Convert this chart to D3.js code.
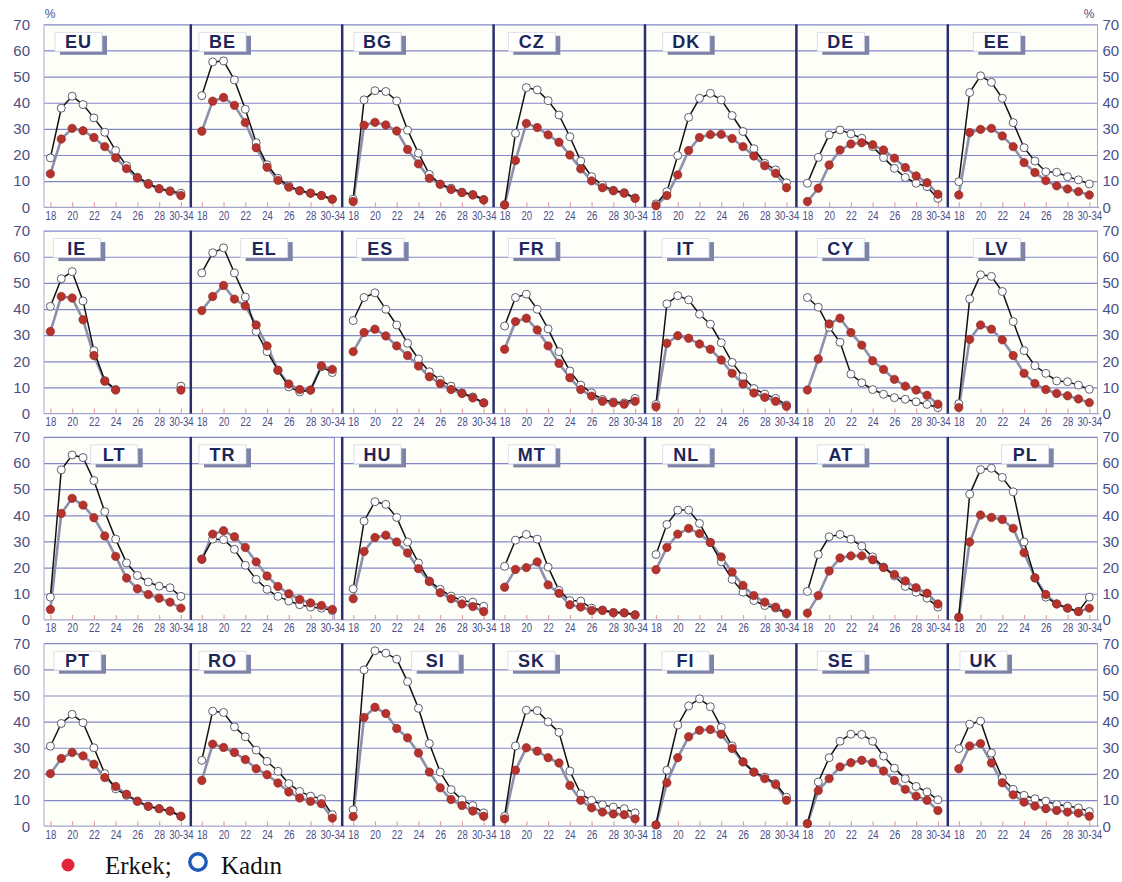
<!DOCTYPE html>
<html>
<head>
<meta charset="utf-8">
<script src="https://cdn.jsdelivr.net/npm/d3@7"></script>
<style>
  body { margin: 0; background: #fff; }
  svg { display: block; }
  .num { font-family: "Liberation Sans", Arial, sans-serif; fill: #4b4f86; }
</style>
</head>
<body>
<svg id="chart" width="1122" height="882"></svg>
<script>
// ages on the x axis, and the ones that get a label
const ages = ["18", "19", "20", "21", "22", "23", "24", "25", "26", "27", "28", "29", "30-34"];
const tickAges = ["18", "20", "22", "24", "26", "28", "30-34"];
const yTicks = [0, 10, 20, 30, 40, 50, 60, 70];

// panel order, row by row
const row1 = ["EU", "BE", "BG", "CZ", "DK", "DE", "EE"];
const row2 = ["IE", "EL", "ES", "FR", "IT", "CY", "LV"];
const row3 = ["LT", "TR", "HU", "MT", "NL", "AT", "PL"];
const row4 = ["PT", "RO", "SI", "SK", "FI", "SE", "UK"];

// % per age, _E = Erkek (men), _K = Kadın (women)
const EU_E = [12.8, 26.1, 30.2, 29.3, 26.7, 23.2, 18.9, 14.8, 11.2, 8.8, 7.1, 6.1, 4.5];
const EU_K = [18.9, 37.9, 42.5, 39.3, 34.2, 28.7, 21.7, 15.9, 11.5, 9.2, 7.1, 6.3, 5.4];
const BE_E = [29.1, 40.6, 42.0, 39.0, 32.4, 22.8, 15.3, 10.3, 7.7, 6.3, 5.4, 4.5, 3.1];
const BE_K = [42.7, 55.6, 56.0, 48.7, 37.5, 24.7, 16.3, 11.1, 8.2, 6.4, 5.4, 4.5, 3.1];
const BG_E = [2.2, 31.4, 32.5, 31.5, 29.2, 22.1, 16.6, 11.1, 8.8, 6.8, 5.6, 4.7, 2.8];
const BG_K = [3.1, 41.1, 44.6, 44.3, 40.7, 29.5, 20.7, 12.6, 8.8, 7.3, 5.8, 4.9, 3.0];
const CZ_E = [0.9, 17.9, 32.1, 30.5, 27.7, 24.9, 20.0, 14.7, 10.1, 7.5, 6.3, 5.4, 3.4];
const CZ_K = [1.0, 28.3, 45.8, 44.9, 40.8, 35.3, 27.0, 17.7, 11.7, 8.5, 6.5, 5.6, 3.6];
const DK_E = [0.6, 4.5, 12.4, 21.7, 26.7, 27.8, 27.9, 26.3, 23.2, 19.6, 15.9, 13.0, 7.5];
const DK_K = [1.3, 6.0, 19.8, 34.4, 41.7, 43.6, 41.1, 35.1, 29.0, 22.4, 16.8, 14.3, 9.4];
const DE_E = [2.2, 7.3, 16.2, 21.9, 24.2, 24.7, 23.9, 21.9, 18.8, 15.2, 12.0, 9.4, 5.0];
const DE_K = [9.2, 19.1, 27.7, 29.6, 28.1, 26.4, 23.2, 19.0, 14.9, 11.4, 9.2, 7.9, 3.4];
const EE_E = [4.7, 28.6, 29.8, 30.2, 27.3, 23.2, 17.1, 13.3, 10.2, 8.2, 7.0, 6.0, 4.7];
const EE_K = [9.8, 43.9, 50.3, 47.8, 41.7, 32.4, 22.8, 17.7, 13.6, 13.4, 11.7, 10.5, 8.9];

const IE_E = [31.4, 44.8, 44.2, 35.9, 22.2, 12.4, 9.0, null, null, null, null, null, 9.0];
const IE_K = [41.0, 51.6, 54.3, 43.1, 24.1, 12.6, 9.2, null, null, null, null, null, 10.5];
const EL_E = [39.4, 44.8, 49.0, 43.8, 41.2, 33.9, 25.9, 16.6, 11.3, 9.2, 9.0, 18.3, 16.9];
const EL_K = [53.8, 61.5, 63.4, 53.8, 44.6, 31.4, 23.7, 16.6, 10.2, 8.3, 9.0, 17.9, 15.7];
const ES_E = [23.7, 31.0, 32.3, 29.7, 25.9, 22.2, 18.2, 14.1, 11.5, 9.2, 7.7, 6.0, 4.1];
const ES_K = [35.6, 44.4, 46.2, 39.9, 33.9, 26.9, 20.9, 16.0, 12.8, 10.5, 7.9, 6.4, 4.1];
const FR_E = [24.6, 35.2, 36.5, 32.0, 25.9, 19.2, 13.7, 9.2, 6.7, 4.7, 4.1, 3.6, 4.7];
const FR_K = [33.5, 44.4, 45.7, 39.9, 32.4, 23.7, 16.3, 10.9, 7.9, 5.4, 4.5, 4.1, 5.8];
const IT_E = [2.6, 26.9, 29.8, 28.8, 26.6, 24.6, 20.5, 15.4, 11.3, 7.9, 6.2, 4.7, 2.8];
const IT_K = [3.5, 42.0, 45.1, 43.5, 38.0, 34.2, 27.1, 19.6, 14.1, 9.6, 7.5, 5.8, 3.3];
const CY_E = [9.0, 20.9, 34.3, 36.5, 31.0, 26.2, 20.2, 16.9, 13.1, 10.5, 9.0, 7.0, 3.6];
const CY_K = [44.4, 40.7, 33.0, 27.3, 15.1, 11.8, 9.2, 7.4, 6.1, 5.5, 4.5, 3.5, 2.3];
const LV_E = [2.3, 28.4, 33.9, 32.3, 28.2, 22.2, 15.4, 11.5, 9.2, 7.7, 6.8, 5.6, 4.2];
const LV_K = [3.8, 43.9, 53.1, 52.5, 46.7, 35.2, 24.1, 18.3, 15.4, 12.5, 12.2, 10.9, 9.3];

const LT_E = [4.0, 40.7, 46.5, 43.9, 39.1, 32.1, 24.3, 16.0, 11.9, 9.7, 8.3, 6.8, 4.5];
const LT_K = [8.7, 57.4, 63.1, 62.1, 53.3, 41.4, 30.9, 21.8, 17.0, 14.5, 12.9, 12.3, 9.0];
const TR_E = [23.2, 32.8, 34.1, 31.8, 27.7, 22.2, 16.8, 12.8, 10.0, 7.8, 6.5, 5.5, 4.0];
const TR_K = [23.2, 30.9, 30.7, 27.0, 20.9, 15.5, 11.7, 9.0, 7.2, 5.8, 4.9, 4.5, 3.6];
const HU_E = [8.1, 26.2, 31.5, 32.4, 29.8, 25.6, 19.6, 14.7, 10.4, 8.1, 6.1, 5.1, 3.2];
const HU_K = [11.9, 37.8, 45.2, 44.2, 39.2, 29.8, 21.8, 14.9, 11.7, 9.1, 7.4, 6.8, 5.2];
const MT_E = [12.5, 19.3, 20.0, 22.2, 13.4, 10.2, 5.8, 4.9, 3.6, 3.6, 2.7, 2.7, 1.9];
const MT_K = [20.5, 30.5, 32.7, 30.9, 20.2, 11.3, 7.4, 7.2, 4.5, 3.8, 2.9, 2.7, 2.0];
const NL_E = [19.2, 27.7, 32.8, 35.0, 33.0, 29.6, 24.1, 18.3, 13.2, 9.3, 6.8, 4.9, 2.6];
const NL_K = [25.0, 36.5, 42.0, 42.0, 36.9, 29.6, 22.2, 15.5, 10.6, 7.4, 5.5, 4.5, 2.3];
const AT_E = [2.6, 9.3, 18.7, 23.7, 24.5, 24.5, 23.0, 20.0, 17.4, 14.9, 12.3, 10.2, 6.1];
const AT_K = [10.9, 25.0, 31.8, 32.7, 30.9, 28.2, 24.1, 20.2, 16.8, 12.8, 10.6, 8.3, 4.9];
const PL_E = [1.0, 29.8, 40.1, 39.2, 38.4, 35.0, 25.7, 16.1, 9.7, 6.1, 4.5, 3.2, 4.5];
const PL_K = [1.0, 48.1, 57.5, 58.0, 54.5, 49.0, 29.8, 16.0, 8.7, 6.1, 4.5, 3.2, 8.7];

const PT_E = [20.1, 25.9, 28.2, 26.9, 23.7, 18.6, 15.2, 12.2, 9.5, 7.6, 6.7, 5.8, 3.8];
const PT_K = [30.6, 39.3, 42.8, 39.6, 30.0, 20.1, 14.3, 11.8, 9.6, 7.6, 6.7, 5.8, 3.8];
const RO_E = [17.5, 31.4, 30.1, 28.2, 25.5, 22.0, 19.7, 16.5, 13.1, 10.8, 9.5, 8.6, 3.1];
const RO_K = [25.2, 44.0, 43.5, 38.0, 34.2, 29.1, 24.8, 21.0, 16.3, 13.3, 11.5, 10.5, 4.4];
const SI_E = [3.7, 41.6, 45.5, 43.1, 37.4, 33.8, 28.0, 20.7, 14.7, 10.2, 7.9, 5.8, 3.8];
const SI_K = [6.3, 59.8, 67.1, 66.2, 63.9, 55.3, 45.1, 31.6, 20.7, 14.0, 10.1, 7.9, 5.1];
const SK_E = [2.8, 21.4, 30.0, 28.7, 26.2, 24.2, 15.6, 9.9, 7.0, 5.4, 4.7, 4.4, 2.8];
const SK_K = [3.8, 30.7, 44.4, 44.2, 39.9, 35.9, 21.1, 12.4, 9.9, 8.2, 7.3, 6.7, 5.1];
const FI_E = [0.5, 16.6, 26.2, 34.2, 36.7, 37.0, 35.2, 29.7, 24.6, 20.7, 18.2, 15.9, 9.9];
const FI_K = [0.5, 21.4, 38.7, 46.0, 48.7, 45.7, 37.8, 30.7, 24.6, 20.7, 18.8, 16.3, 11.1];
const SE_E = [1.0, 13.6, 18.2, 22.7, 24.3, 25.2, 24.3, 21.1, 17.5, 14.1, 11.5, 9.9, 6.0];
const SE_K = [1.0, 16.9, 26.2, 32.5, 35.2, 35.1, 32.5, 26.8, 22.2, 18.2, 15.2, 13.1, 10.1];
const UK_E = [22.0, 30.7, 31.6, 24.2, 16.6, 12.0, 9.2, 7.7, 6.7, 6.0, 5.4, 5.0, 3.8];
const UK_K = [29.7, 39.0, 40.2, 28.0, 18.4, 14.1, 11.8, 10.5, 9.6, 8.3, 7.7, 7.0, 5.6];

const legendLabels = ["Erkek;", "Kadın"];

// table the drawing code walks over
const rows = [row1, row2, row3, row4];
const values = {
  EU: [EU_E, EU_K], BE: [BE_E, BE_K], BG: [BG_E, BG_K], CZ: [CZ_E, CZ_K], DK: [DK_E, DK_K], DE: [DE_E, DE_K], EE: [EE_E, EE_K],
  IE: [IE_E, IE_K], EL: [EL_E, EL_K], ES: [ES_E, ES_K], FR: [FR_E, FR_K], IT: [IT_E, IT_K], CY: [CY_E, CY_K], LV: [LV_E, LV_K],
  LT: [LT_E, LT_K], TR: [TR_E, TR_K], HU: [HU_E, HU_K], MT: [MT_E, MT_K], NL: [NL_E, NL_K], AT: [AT_E, AT_K], PL: [PL_E, PL_K],
  PT: [PT_E, PT_K], RO: [RO_E, RO_K], SI: [SI_E, SI_K], SK: [SK_E, SK_K], FI: [FI_E, FI_K], SE: [SE_E, SE_K], UK: [UK_E, UK_K]
};

// where the country tag sits inside its panel (px from panel left)
const tagLeft = {
  EU: 15.6, BE: 8.2, BG: 11.8, CZ: 14.7, DK: 17.7, DE: 20.9, EE: 25.5,
  IE: 13.9, EL: 49.9, ES: 14.5, FR: 14.7, IT: 17, CY: 20.9, LV: 25.5,
  LT: 51.3, TR: 8.2, HU: 11.8, MT: 14.7, NL: 17.7, AT: 20.9, PL: 53.9,
  PT: 14.6, RO: 8.2, SI: 69.5, SK: 14.4, FI: 17, SE: 20.9, UK: 12.2
};

const svg = d3.select("#chart");

// layout
const plotLeft = 44, plotRight = 1097.5, plotH = 183;
const col = d3.scaleBand().domain(d3.range(7)).range([39.4, 1099.2]);
const rowTop = d3.scaleLinear().domain([0, 3]).range([24.3, 643.2]);
const x = d3.scalePoint().domain(ages).range([11, 141.5]);

rows.forEach((codes, r) => {
  const top = rowTop(r);
  const y = d3.scaleLinear().domain([0, 70]).range([top + plotH, top]);
  const g = svg.append("g");

  g.append("rect")
    .attr("x", plotLeft).attr("y", top)
    .attr("width", plotRight - plotLeft).attr("height", plotH)
    .attr("fill", "#fefef9");

  // horizontal grid
  const grid = g.append("g")
    .attr("transform", `translate(${plotLeft},0)`)
    .call(d3.axisLeft(y).tickValues(yTicks.slice(1)).tickSize(-(plotRight - plotLeft)).tickFormat(""));
  grid.select(".domain").remove();
  grid.selectAll("line").attr("stroke", "#8387c8").attr("stroke-width", 1.2);

  // y labels, both sides
  const left = g.append("g")
    .attr("transform", `translate(${plotLeft},0)`)
    .call(d3.axisLeft(y).tickValues(yTicks).tickSize(0).tickPadding(14));
  const right = g.append("g")
    .attr("transform", `translate(${plotRight},0)`)
    .call(d3.axisRight(y).tickValues(yTicks).tickSize(0).tickPadding(5));
  [left, right].forEach(a => {
    a.select(".domain").remove();
    a.selectAll("text").attr("class", "num").style("font-size", "15px");
  });

  // TR panel is boxed a bit narrower than its column
  if (codes.includes("TR")) {
    const c = codes.indexOf("TR");
    g.append("rect")
      .attr("x", col(c) + 143.5).attr("y", top + 0.8)
      .attr("width", col.bandwidth() - 145).attr("height", plotH - 1.2)
      .attr("fill", "#fff");
    g.append("line")
      .attr("x1", col(c) + 143.5).attr("x2", col(c) + 143.5)
      .attr("y1", top).attr("y2", top + plotH)
      .attr("stroke", "#8387c8").attr("stroke-width", 1);
  }

  // outer borders
  g.selectAll(".edge").data([plotLeft, plotRight]).join("line")
    .attr("x1", d => d).attr("x2", d => d)
    .attr("y1", top).attr("y2", top + plotH)
    .attr("stroke", "#a3a7d4").attr("stroke-width", 1);

  codes.forEach((code, c) => {
    const p = g.append("g").attr("transform", `translate(${col(c)},0)`);

    // x axis with little ticks pointing up
    const xa = p.append("g")
      .attr("transform", `translate(0,${top + plotH})`)
      .call(d3.axisBottom(x).tickValues(tickAges).tickSizeInner(-5).tickSizeOuter(0).tickPadding(4));
    xa.select(".domain").attr("stroke", "#a3a6cc").attr("stroke-width", 1.2)
      .attr("d", `M${c === 0 ? plotLeft - col(0) : 0},0H${col.bandwidth()}`);
    xa.selectAll("line").attr("stroke", "#e3a3a6").attr("stroke-width", 1.2);
    xa.selectAll("text").attr("class", "num").style("font-size", "12px")
      .attr("transform", "scale(0.8,1)");

    // tag box
    const tx = tagLeft[code], ty = top + 8;
    p.append("rect").attr("x", tx + 5).attr("y", ty + 3.5).attr("width", 47).attr("height", 19).attr("fill", "#7e84a8");
    p.append("rect").attr("x", tx).attr("y", ty).attr("width", 47).attr("height", 19)
      .attr("fill", "#fff").attr("stroke", "#d5d6e2").attr("stroke-width", 0.8);
    p.append("text").attr("x", tx + 23.5).attr("y", ty + 16)
      .attr("text-anchor", "middle")
      .style("font-family", "'Liberation Sans', Arial, sans-serif")
      .style("font-weight", "bold").style("font-size", "18px").style("letter-spacing", "1px")
      .attr("fill", "#1d2758").text(code);

    const [men, women] = values[code];
    const line = d3.line()
      .defined(d => d != null)
      .x((d, i) => x(ages[i]))
      .y(d => y(d));

    p.append("path").attr("d", line(men)).attr("fill", "none")
      .attr("stroke", "#8c91ab").attr("stroke-width", 2.6).attr("stroke-linejoin", "round");
    p.append("path").attr("d", line(women)).attr("fill", "none")
      .attr("stroke", "#111").attr("stroke-width", 1.5).attr("stroke-linejoin", "round");

    p.selectAll(".k").data(women.map((v, i) => [ages[i], v]).filter(d => d[1] != null)).join("circle")
      .attr("cx", d => x(d[0])).attr("cy", d => y(d[1])).attr("r", 4)
      .attr("fill", "#fff").attr("stroke", "#5e6070").attr("stroke-width", 1);
    p.selectAll(".e").data(men.map((v, i) => [ages[i], v]).filter(d => d[1] != null)).join("circle")
      .attr("cx", d => x(d[0])).attr("cy", d => y(d[1])).attr("r", 4.2)
      .attr("fill", "#b5322d").attr("stroke", "#8e2420").attr("stroke-width", 0.6);
  });

  // panel dividers
  g.selectAll(".div").data(d3.range(1, 7)).join("line")
    .attr("x1", d => col(d)).attr("x2", d => col(d))
    .attr("y1", top).attr("y2", top + plotH)
    .attr("stroke", "#2b2e6c").attr("stroke-width", 2.5);
});

// % marks
svg.append("text").attr("class", "num").attr("x", 50).attr("y", 18).style("font-size", "12px").attr("text-anchor", "middle").text("%");
svg.append("text").attr("class", "num").attr("x", 1089).attr("y", 18).style("font-size", "12px").attr("text-anchor", "middle").text("%");

// legend
const lg = svg.append("g");
lg.append("circle").attr("cx", 68).attr("cy", 865).attr("r", 6.5).attr("fill", "#e3243b");
lg.append("circle").attr("cx", 198).attr("cy", 862).attr("r", 8.2).attr("fill", "#fff")
  .attr("stroke", "#1d5bb6").attr("stroke-width", 3.4);
lg.selectAll("text").data(legendLabels).join("text")
  .attr("x", (d, i) => i === 0 ? 105 : 221).attr("y", 874)
  .style("font-family", "'Liberation Serif'").style("font-size", "25px")
  .attr("fill", "#111").text(d => d);
</script>
</body>
</html>
